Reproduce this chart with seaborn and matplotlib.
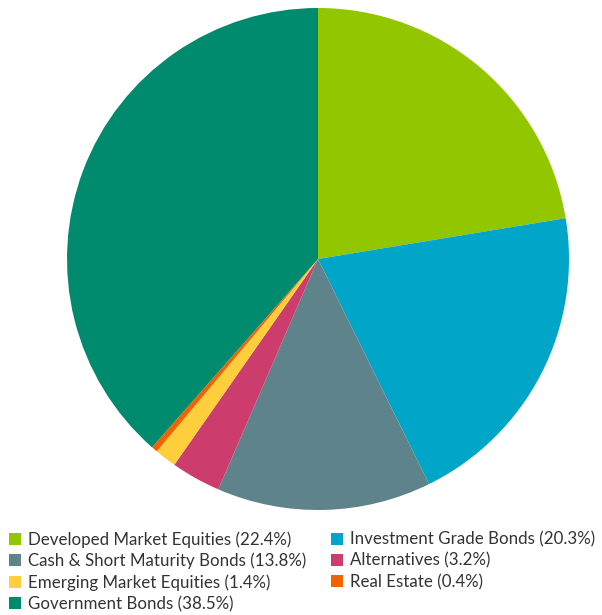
import matplotlib
matplotlib.use("Agg")
import matplotlib.pyplot as plt
import seaborn as sns
from matplotlib.patches import Patch

categories = ["Developed Market Equities", "Investment Grade Bonds", "Cash & Short Maturity Bonds",
              "Alternatives", "Emerging Market Equities", "Real Estate", "Government Bonds"]
values = [22.4, 20.3, 13.8, 3.2, 1.4, 0.4, 38.5]
colors = ["#92C700", "#00A5C8", "#5F838B", "#CC3D6E", "#FFCE3D", "#F06400", "#008A6E"]
labels = [f"{c} ({v}%)" for c, v in zip(categories, values)]

sns.set_theme(style="white")
plt.rcParams['font.family'] = ['Lato', 'DejaVu Sans']

fig = plt.figure(figsize=(6.02, 6.15), dpi=100)
ax = fig.add_axes([318/602 - 251/602, 1 - (259 + 251)/615, 502/602, 502/615])
ax.pie(values, colors=colors, startangle=90, counterclock=False,
       wedgeprops=dict(linewidth=0))
ax.set_xlim(-1, 1)
ax.set_ylim(-1, 1)
ax.set_aspect('equal')
ax.axis('off')

handles = [Patch(facecolor=c, edgecolor='none') for c in colors]
# reorder for row-wise filling in 2 columns
order = [0, 2, 4, 6, 1, 3, 5]
leg = fig.legend([handles[i] for i in order], [labels[i] for i in order],
                 ncol=2, loc='upper left', bbox_to_anchor=(9/602, 1 - 531/615),
                 frameon=False, fontsize=12.2, handlelength=0.7, handleheight=0.7,
                 handletextpad=0.4, columnspacing=1.5, labelspacing=0.3,
                 borderpad=0, borderaxespad=0)
for t in leg.get_texts():
    t.set_color('#333333')

fig.savefig("out.png", dpi=100)
